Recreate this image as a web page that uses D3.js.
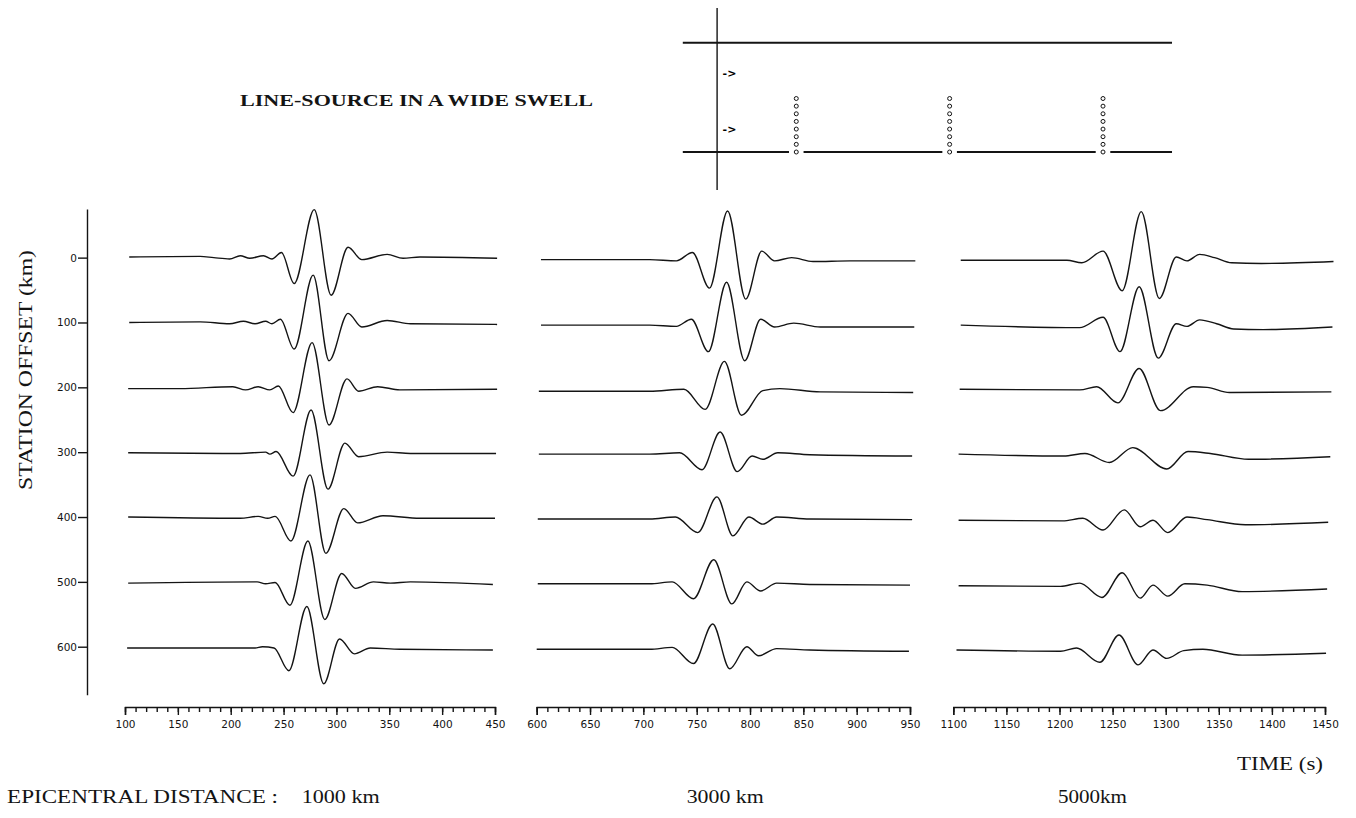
<!DOCTYPE html>
<html lang="en">
<head>
<meta charset="UTF-8">
<title>Line-source in a wide swell</title>
<script src="https://d3js.org/d3.v7.min.js"></script>
<style>
    body{ margin:0; background:#ffffff; }
    svg{ display:block; }
    .trace{ fill:none; stroke:#141414; stroke-width:1.4px; stroke-linejoin:round; }
    .axis path, .axis line{ stroke:#141414; stroke-width:1.4px; fill:none; }
    .axis text{ font-family:"DejaVu Sans",sans-serif; font-size:10.5px; fill:#141414; }
    .yaxis text{ font-size:10.5px; }
    .serif{ font-family:"Liberation Serif","DejaVu Serif",serif; fill:#141414; }
    .sketch line{ stroke:#141414; }
    .sketch circle{ fill:none; stroke:#141414; stroke-width:1px; }
</style>
</head>
<body>
<svg id="canvas" width="1356" height="818"></svg>
<script>
    // station offsets (km) and epicentral distances of the three record sections
    let offsets = [0, 100, 200, 300, 400, 500, 600]
    let distancesKm = [1000, 3000, 5000]
    let distanceLabels = ['1000 km', '3000 km', '5000km']
    let timeDomains = [[100, 450], [600, 950], [1100, 1450]]
    let timeTicks = [
        [100, 150, 200, 250, 300, 350, 400, 450],
        [600, 650, 700, 750, 800, 850, 900, 950],
        [1100, 1150, 1200, 1250, 1300, 1350, 1400, 1450]]

    // traces: [time (s), amplitude in offset-km], one array per station
    let traces1000 = [
        [[104,1],[171,2],[184,0],[199,-2],[209,3],[218,-1],[231,3],[239,-2],[248,8],[260,-40],[279,74],[295,-58],[311,16],[324,-3],[348,5],[363,-1],[379,1],[452,-1]],
        [[104,0],[171,1],[199,-2],[212,2],[223,-2],[233,2],[239,-2],[247,5],[260,-41],[278,73],[293,-59],[311,14],[324,-7],[348,3],[370,-2],[452,-3]],
        [[103,-2],[152,-2],[202,1],[214,-4],[226,1],[237,-4],[245,2],[259,-39],[277,69],[293,-58],[310,13],[321,-6],[339,1],[360,-4],[452,-3]],
        [[103,-1],[209,-2],[233,0],[237,-3],[243,1],[259,-37],[276,65],[292,-57],[308,14],[321,-7],[348,0],[370,-2],[451,-2]],
        [[103,0],[209,-2],[226,1],[235,-2],[242,1],[257,-37],[275,65],[290,-56],[307,13],[320,-9],[344,2],[379,-2],[450,-2]],
        [[103,-2],[225,0],[233,-3],[242,-1],[256,-36],[273,63],[289,-58],[305,13],[318,-10],[335,0],[351,-2],[370,0],[448,-4]],
        [[102,-2],[223,-2],[230,0],[241,-2],[255,-37],[272,62],[288,-57],[303,12],[317,-11],[332,-2],[360,-4],[448,-5]]
    ]
    let traces3000 = [
        [[604,-3],[659,-3],[706,-3],[731,-5],[746,8],[762,-47],[779,72],[796,-64],[811,10],[823,-5],[839,0],[859,-6],[894,-5],[955,-5]],
        [[604,-4],[706,-4],[731,-6],[745,5],[761,-45],[778,62],[795,-59],[810,5],[823,-7],[841,-1],[866,-7],[954,-7]],
        [[602,-6],[706,-6],[738,-3],[758,-34],[776,40],[792,-43],[812,-5],[828,-2],[866,-7],[953,-8]],
        [[602,-3],[706,-3],[734,-1],[755,-27],[772,31],[788,-30],[802,-6],[812,-11],[826,-1],[856,-4],[952,-6]],
        [[601,-3],[706,-3],[730,0],[751,-24],[769,31],[784,-29],[799,0],[812,-11],[825,0],[856,-3],[952,-4]],
        [[601,-3],[706,-3],[727,0],[747,-26],[766,34],[783,-34],[797,0],[810,-14],[825,-2],[856,-4],[950,-5]],
        [[600,-4],[706,-4],[727,-1],[747,-26],[765,35],[781,-34],[797,0],[808,-14],[825,-3],[856,-5],[949,-7]]
    ]
    let traces5000 = [
        [[1107,-4],[1207,-4],[1221,-8],[1241,10],[1259,-51],[1277,71],[1294,-63],[1310,1],[1320,-5],[1332,5],[1346,0],[1362,-8],[1390,-9],[1458,-6]],
        [[1107,-4],[1219,-8],[1241,8],[1257,-45],[1275,55],[1293,-55],[1310,-2],[1320,-6],[1332,4],[1348,-2],[1364,-10],[1392,-11],[1457,-7]],
        [[1106,-3],[1219,-4],[1235,1],[1255,-24],[1275,29],[1295,-36],[1326,1],[1339,0],[1360,-8],[1456,-7]],
        [[1105,-3],[1204,-6],[1224,-2],[1247,-16],[1269,7],[1301,-26],[1321,1],[1342,-2],[1378,-11],[1455,-7]],
        [[1105,-5],[1203,-6],[1222,-2],[1241,-20],[1261,11],[1276,-15],[1288,-5],[1302,-24],[1320,0],[1339,-4],[1375,-12],[1453,-8]],
        [[1105,-6],[1201,-7],[1219,-2],[1240,-24],[1259,14],[1276,-25],[1288,-5],[1302,-22],[1318,-3],[1339,-5],[1372,-15],[1452,-11]],
        [[1103,-5],[1201,-7],[1216,-2],[1238,-24],[1256,18],[1274,-28],[1288,-5],[1301,-18],[1317,-6],[1335,-4],[1372,-13],[1451,-10]]
    ]
    let allTraces = [traces1000, traces3000, traces5000]

    // inset sketch: station marks per column, swell edges and extent (km)
    let sketchStations = [0, 100, 200, 300, 400, 500, 600, 700]
    let swellEdges = [0, 1430]
    let swellExtent = [-480, 5900]
    let arrowRows = [300, 1040]

    let svg = d3.select('#canvas')
    let panelX = [[125, 495], [536.7, 910], [953.3, 1325]]
    let axisY = 707

    let yScale = d3.scaleLinear().domain([-75, 674]).range([209, 694.7])

    // y axis
    svg.append('g').attr('class', 'axis yaxis')
        .attr('transform', 'translate(87,0)')
        .call(d3.axisLeft(yScale).tickValues(offsets).tickSize(9).tickSizeOuter(0).tickPadding(1))

    allTraces.forEach(function (traces, i) {
        let x = d3.scaleLinear().domain(timeDomains[i]).range(panelX[i])

        traces.forEach(function (tr, j) {
            let line = d3.line()
                .x(function (d) { return x(d[0]) })
                .y(function (d) { return yScale(offsets[j] - d[1]) })
                .curve(d3.curveMonotoneX)
            svg.append('path').attr('class', 'trace').attr('d', line(tr))
        })

        // minor ticks every 10 s
        svg.append('g').attr('class', 'axis')
            .attr('transform', `translate(0,${axisY})`)
            .call(d3.axisBottom(x)
                .tickValues(d3.range(timeDomains[i][0], timeDomains[i][1] + 1, 10))
                .tickSize(5).tickSizeOuter(8).tickFormat(''))
        let major = svg.append('g').attr('class', 'axis')
            .attr('transform', `translate(0,${axisY})`)
            .call(d3.axisBottom(x).tickValues(timeTicks[i]).tickSize(8).tickPadding(6).tickFormat(d3.format('d')))
        major.select('.domain').remove()

        svg.append('text').attr('class', 'serif')
            .attr('x', [301.7, 686.7, 1058][i]).attr('y', 803)
            .attr('font-size', 19)
            .attr('textLength', [78, 77, 69][i]).attr('lengthAdjust', 'spacingAndGlyphs')
            .text(distanceLabels[i])
    })

    // labels
    svg.append('text').attr('class', 'serif')
        .attr('x', 7).attr('y', 803).attr('font-size', 19)
        .attr('textLength', 271).attr('lengthAdjust', 'spacingAndGlyphs')
        .text('EPICENTRAL DISTANCE :')
    svg.append('text').attr('class', 'serif')
        .attr('x', 1237).attr('y', 770).attr('font-size', 19)
        .attr('textLength', 86).attr('lengthAdjust', 'spacingAndGlyphs')
        .text('TIME (s)')
    svg.append('text').attr('class', 'serif')
        .attr('transform', 'translate(32,370) rotate(-90)')
        .attr('text-anchor', 'middle').attr('font-size', 19)
        .attr('textLength', 240).attr('lengthAdjust', 'spacingAndGlyphs')
        .text('STATION OFFSET (km)')
    svg.append('text').attr('class', 'serif')
        .attr('x', 240).attr('y', 106).attr('font-size', 16).attr('font-weight', 'bold')
        .attr('textLength', 353).attr('lengthAdjust', 'spacingAndGlyphs')
        .text('LINE-SOURCE IN A WIDE SWELL')

    // inset: line source crossing a wide swell, stations in columns
    let sx = d3.scaleLinear().domain([0, 5000]).range([719.6, 1103])
    let sy = d3.scaleLinear().domain([0, 700]).range([152, 98.5])
    let sketch = svg.append('g').attr('class', 'sketch')
    sketch.append('line')
        .attr('x1', sx(0) - 2.5).attr('x2', sx(0) - 2.5)
        .attr('y1', 8).attr('y2', 190).attr('stroke-width', 1.4)
    sketch.append('line')
        .attr('x1', sx(swellExtent[0])).attr('x2', sx(swellExtent[1]))
        .attr('y1', sy(swellEdges[1])).attr('y2', sy(swellEdges[1])).attr('stroke-width', 2)
    let cuts = [swellExtent[0]].concat(distancesKm.flatMap(function (d) { return [d - 95, d + 95] }), [swellExtent[1]])
    for (let k = 0; k < cuts.length; k += 2) {
        sketch.append('line')
            .attr('x1', sx(cuts[k])).attr('x2', sx(cuts[k + 1]))
            .attr('y1', sy(swellEdges[0])).attr('y2', sy(swellEdges[0])).attr('stroke-width', 2)
    }
    distancesKm.forEach(function (d) {
        sketch.selectAll(null).data(sketchStations).enter().append('circle')
            .attr('cx', sx(d)).attr('cy', function (o) { return sy(o) }).attr('r', 2)
    })
    sketch.selectAll('text.arrow').data(arrowRows).enter().append('text')
        .attr('class', 'arrow')
        .attr('x', sx(0) + 3).attr('y', function (o) { return sy(o) + 4 })
        .attr('font-family', 'DejaVu Sans').attr('font-size', 11).attr('font-weight', 'bold')
        .text('->')
</script>
</body>
</html>
